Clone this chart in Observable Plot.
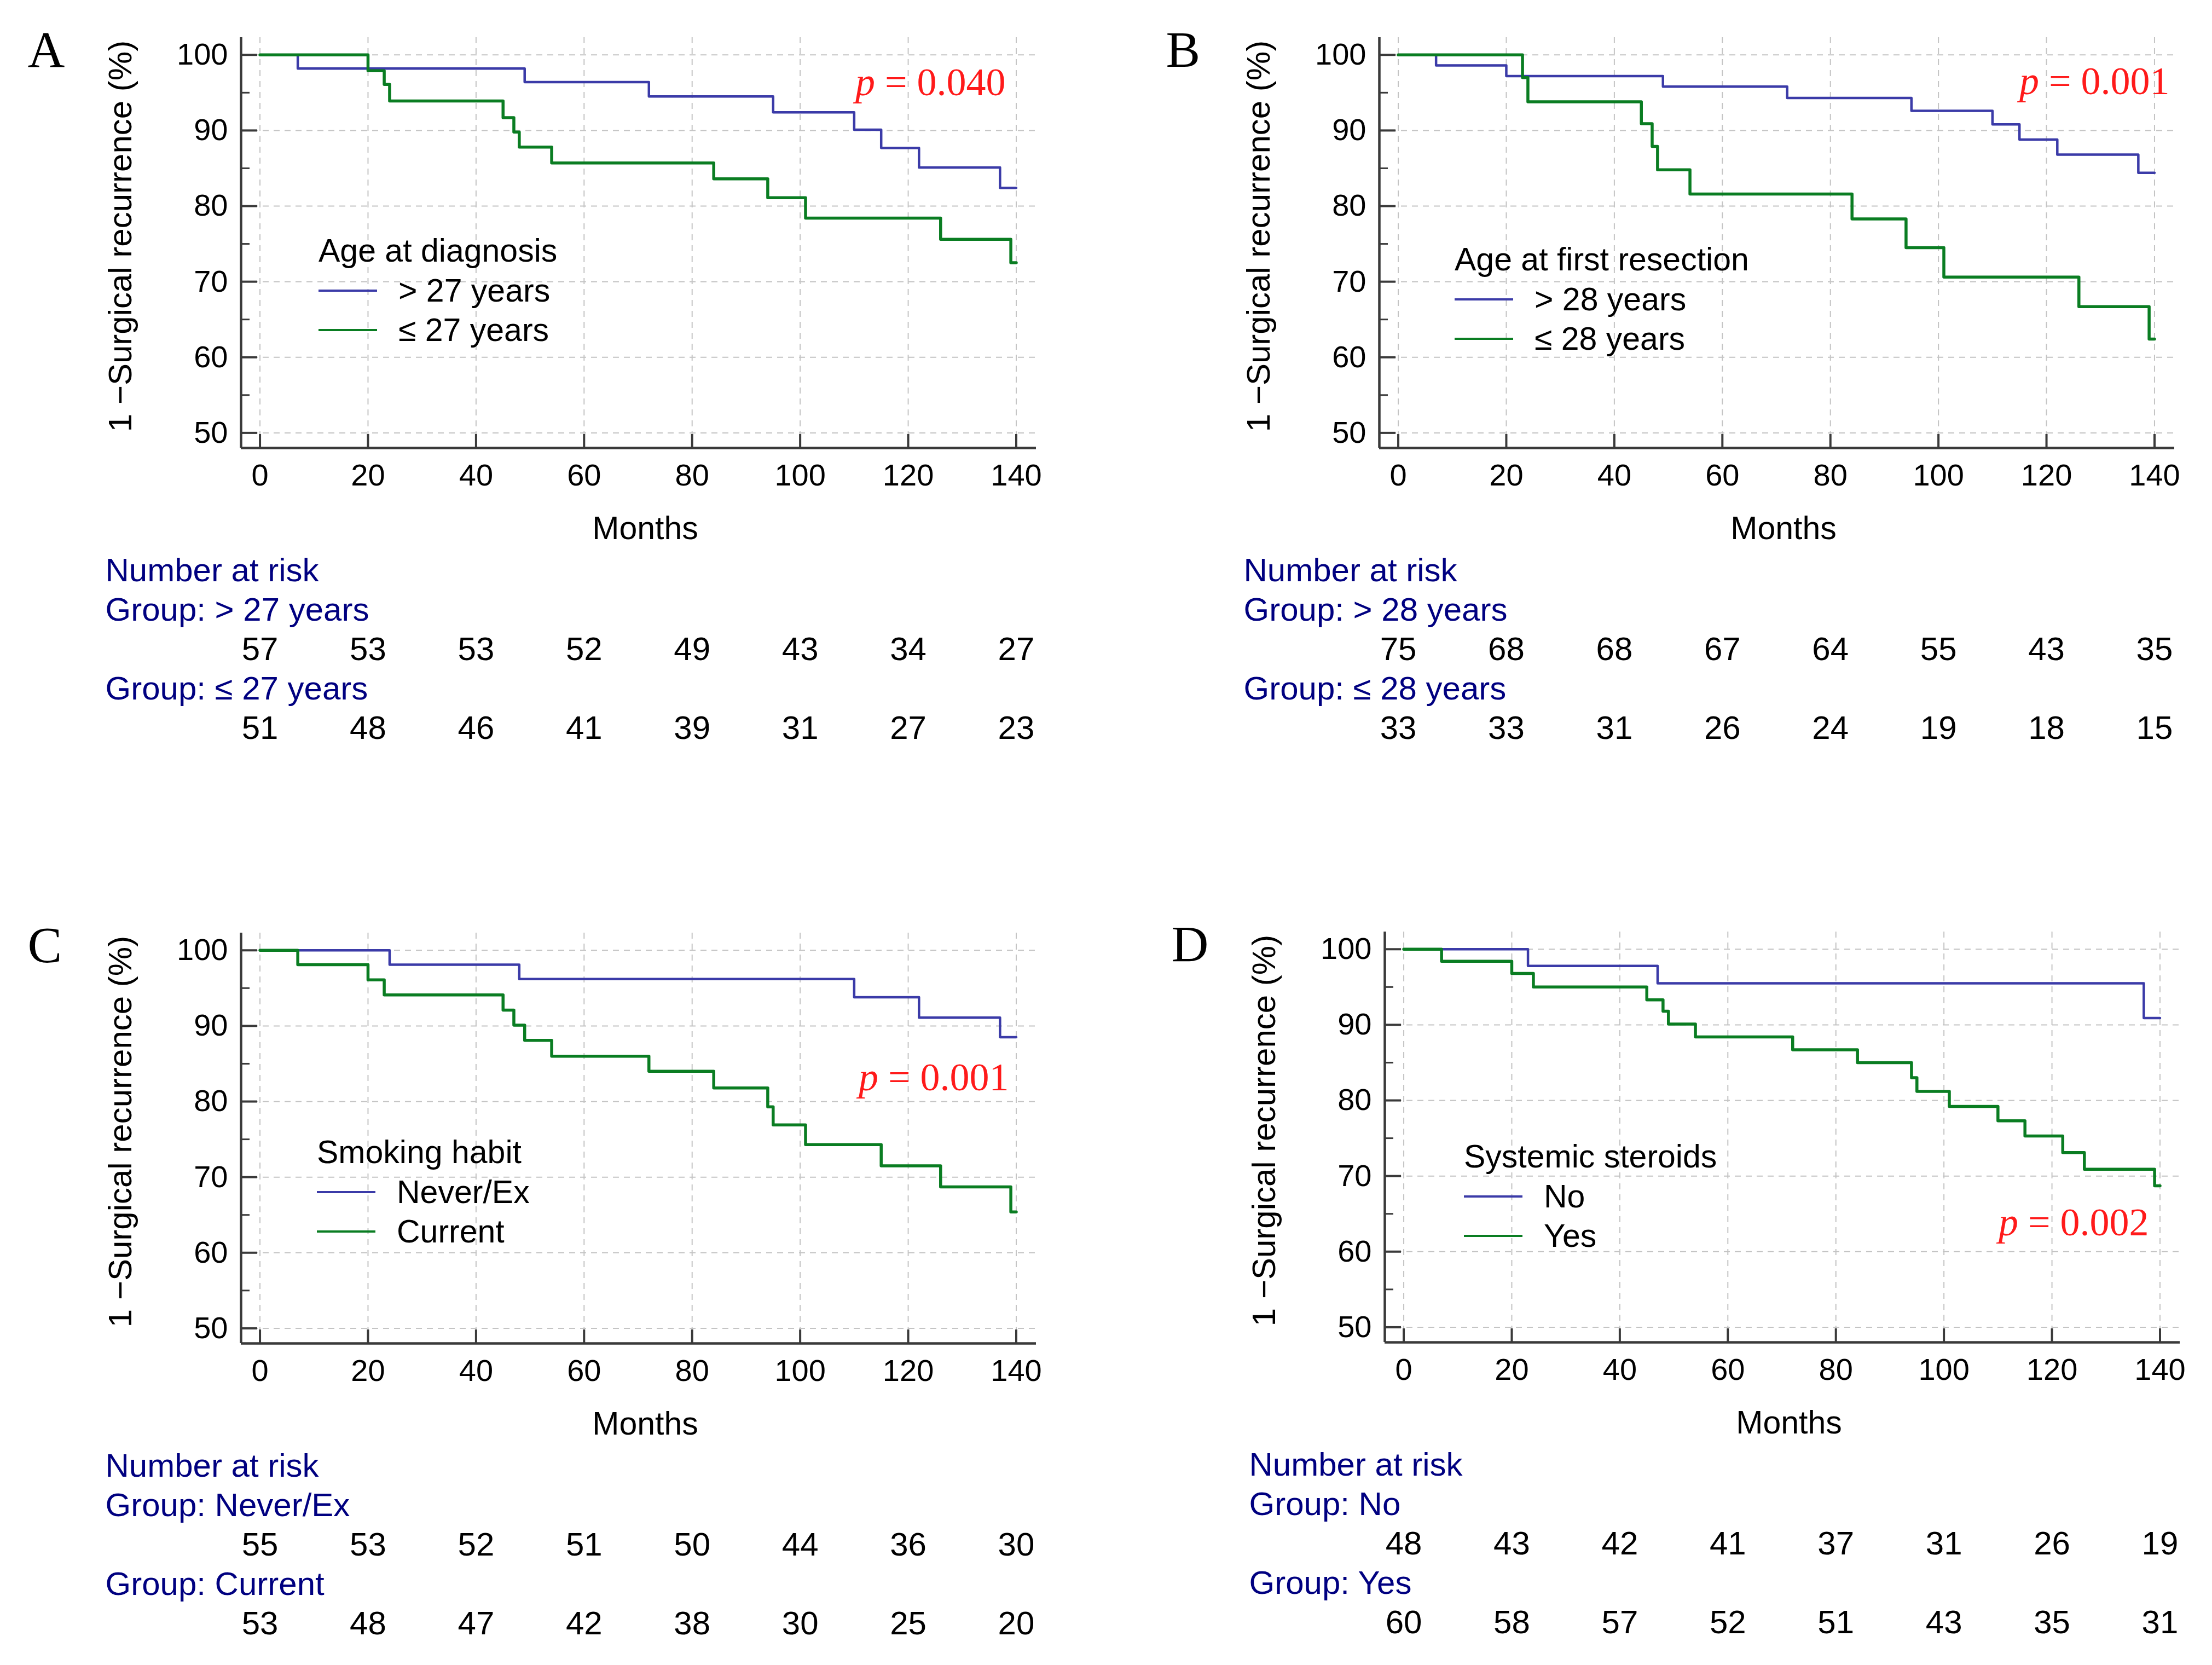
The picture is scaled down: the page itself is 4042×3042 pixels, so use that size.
<!DOCTYPE html>
<html>
<head>
<meta charset="utf-8">
<script src="https://cdn.jsdelivr.net/npm/d3@7"></script>
<script src="https://cdn.jsdelivr.net/npm/@observablehq/plot@0.6"></script>
<style>
html, body { margin: 0; padding: 0; background: #fff; overflow: hidden; }
#fig { position: relative; width: 4042px; height: 3042px; background: #fff; overflow: hidden; }
.panel { position: absolute; width: 2000px; }
.panel svg { display: block; }
</style>
</head>
<body>
<div id="fig"></div>
<script>
// ---------- data ----------
const months = [0, 20, 40, 60, 80, 100, 120, 140];
const yMajor = [50, 60, 70, 80, 90, 100];
const yMinor = [55, 65, 75, 85, 95];
const yTitle = "1 \u2212Surgical recurrence (%)";
const xTitle = "Months";
const riskTitle = "Number at risk";

// Panel A: Age at diagnosis
const timeA1 = [0, 7, 49, 72, 95, 110, 115, 122, 137, 140];
const survA1 = [100, 98.2, 96.4, 94.5, 92.4, 90.1, 87.7, 85.1, 82.4, 82.4];
const timeA2 = [0, 20, 23, 24, 45, 47, 48, 54, 84, 94, 101, 126, 139, 140];
const survA2 = [100, 97.9, 96.1, 93.9, 91.7, 89.8, 87.8, 85.7, 83.6, 81.1, 78.4, 75.6, 72.5, 72.5];
const riskA1 = [57, 53, 53, 52, 49, 43, 34, 27];
const riskA2 = [51, 48, 46, 41, 39, 31, 27, 23];

// Panel B: Age at first resection
const timeB1 = [0, 7, 20, 49, 72, 95, 110, 115, 122, 137, 140];
const survB1 = [100, 98.6, 97.2, 95.8, 94.3, 92.6, 90.8, 88.8, 86.8, 84.4, 84.4];
const timeB2 = [0, 23, 24, 45, 47, 48, 54, 84, 94, 101, 126, 139, 140];
const survB2 = [100, 97.0, 93.8, 90.9, 87.9, 84.8, 81.6, 78.3, 74.5, 70.6, 66.7, 62.4, 62.4];
const riskB1 = [75, 68, 68, 67, 64, 55, 43, 35];
const riskB2 = [33, 33, 31, 26, 24, 19, 18, 15];

// Panel C: Smoking habit
const timeC1 = [0, 24, 48, 110, 122, 137, 140];
const survC1 = [100, 98.1, 96.2, 93.8, 91.1, 88.5, 88.5];
const timeC2 = [0, 7, 20, 23, 45, 47, 49, 54, 72, 84, 94, 95, 101, 115, 126, 139, 140];
const survC2 = [100, 98.1, 96.1, 94.1, 92.1, 90.1, 88.1, 86.0, 84.0, 81.8, 79.3, 76.9, 74.3, 71.5, 68.7, 65.4, 65.4];
const riskC1 = [55, 53, 52, 51, 50, 44, 36, 30];
const riskC2 = [53, 48, 47, 42, 38, 30, 25, 20];

// Panel D: Systemic steroids
const timeD1 = [0, 23, 47, 137, 140];
const survD1 = [100, 97.8, 95.5, 90.9, 90.9];
const timeD2 = [0, 7, 20, 24, 45, 48, 49, 54, 72, 84, 94, 95, 101, 110, 115, 122, 126, 139, 140];
const survD2 = [100, 98.4, 96.8, 95.0, 93.3, 91.8, 90.1, 88.4, 86.7, 85.0, 83.0, 81.2, 79.2, 77.3, 75.3, 73.1, 70.9, 68.7, 68.7];
const riskD1 = [48, 43, 42, 41, 37, 31, 26, 19];
const riskD2 = [60, 58, 57, 52, 51, 43, 35, 31];

const letters = ["A", "B", "C", "D"];
const legendTitles = ["Age at diagnosis", "Age at first resection", "Smoking habit", "Systemic steroids"];
const group1 = ["> 27 years", "> 28 years", "Never/Ex", "No"];
const group2 = ["\u2264 27 years", "\u2264 28 years", "Current", "Yes"];
const pValues = ["p = 0.040", "p = 0.001", "p = 0.001", "p = 0.002"];

// ---------- layout / style ----------
const xDomain = [-3.5, 143.7];
const yDomain = [48, 102.3];
const W = 2000, H = 1010, ML = 440, MR = 107, MT = 68, MB = 192;
const FW = W - ML - MR, FH = H - MT - MB;
const BLUE = "#3b3ba8", GREEN = "#0a7d22", AXIS = "#3a3a3a", GRID = "#c4c4c4", NAVY = "#000080", RED = "#ff1a1a";
const SANS = "'Liberation Sans', Arial, Helvetica, sans-serif";
const SERIF = "'Liberation Serif', 'Times New Roman', serif";

const layout = [
  {left: 0,    top: 0,    leg: [582, 478], p: [1837, 173]},
  {left: 2080, top: 0,    leg: [578, 494], p: [1884, 171]},
  {left: 0,    top: 1636, leg: [579, 489], p: [1843, 355]},
  {left: 2090, top: 1634, leg: [585, 499], p: [1836, 622]}
];

const panels = [
  {t1: timeA1, s1: survA1, t2: timeA2, s2: survA2, r1: riskA1, r2: riskA2},
  {t1: timeB1, s1: survB1, t2: timeB2, s2: survB2, r1: riskB1, r2: riskB2},
  {t1: timeC1, s1: survC1, t2: timeC2, s2: survC2, r1: riskC1, r2: riskC2},
  {t1: timeD1, s1: survD1, t2: timeD2, s2: survD2, r1: riskD1, r2: riskD2}
].map((d, i) => ({...d, letter: letters[i], legTitle: legendTitles[i], g1: group1[i], g2: group2[i], pv: pValues[i], ...layout[i]}));

function steps(t, s) { return t.map((d, i) => ({t: d, s: s[i]})); }

function legendMark(p) {
  return () => {
    const [x, y] = p.leg;
    const g = d3.create("svg:g")
      .attr("font-size", 59).attr("font-family", SANS)
      .attr("text-anchor", "start").attr("fill", "black");
    g.append("text").attr("x", x).attr("y", y).text(p.legTitle);
    [[p.g1, BLUE], [p.g2, GREEN]].forEach(([lab, col], i) => {
      const yy = y + 53 + i * 72;
      g.append("line").attr("x1", x).attr("x2", x + 107).attr("y1", yy).attr("y2", yy)
        .attr("stroke", col).attr("stroke-width", 4);
      g.append("text").attr("x", x + 146).attr("y", yy + 20).text(lab);
    });
    return g.node();
  };
}

function curvePlot(p) {
  const dash = {stroke: GRID, strokeOpacity: 1, strokeWidth: 2, strokeDasharray: "11,9"};
  const svg = Plot.plot({
    width: W, height: H,
    marginLeft: ML, marginRight: MR, marginTop: MT, marginBottom: MB,
    style: {fontFamily: SANS, fontSize: "56px", background: "white", color: "black", overflow: "visible"},
    x: {domain: xDomain, label: null},
    y: {domain: yDomain, label: null},
    marks: [
      Plot.gridX(months, dash),
      Plot.gridY(yMajor, dash),
      Plot.ruleY(yMajor, {stroke: AXIS, strokeWidth: 4, insetRight: FW - 30}),
      Plot.ruleY(yMinor, {stroke: AXIS, strokeWidth: 3, insetRight: FW - 16}),
      Plot.ruleX(months, {stroke: AXIS, strokeWidth: 4, insetTop: FH - 25}),
      Plot.ruleX([xDomain[0]], {stroke: AXIS, strokeWidth: 4.5}),
      Plot.ruleY([yDomain[0]], {stroke: AXIS, strokeWidth: 4.5}),
      Plot.axisY(yMajor, {tickSize: 0, tickPadding: 24, fontSize: 56, label: null}),
      Plot.axisX(months, {tickSize: 0, tickPadding: 29, fontSize: 56, label: null}),
      Plot.line(steps(p.t1, p.s1), {x: "t", y: "s", curve: "step-after", stroke: BLUE, strokeWidth: 4.5}),
      Plot.line(steps(p.t2, p.s2), {x: "t", y: "s", curve: "step-after", stroke: GREEN, strokeWidth: 5.5}),
      Plot.text([p.letter], {text: d => d, frameAnchor: "top-left", textAnchor: "start", lineAnchor: "bottom",
        dx: 50 - ML, dy: 121 - MT, fontFamily: SERIF, fontSize: 94, fill: "black"}),
      Plot.text([yTitle], {text: d => d, frameAnchor: "left", rotate: -90, dx: -220, dy: -12,
        fontSize: 60, fill: "black", textAnchor: "middle"}),
      Plot.text([xTitle], {text: d => d, frameAnchor: "bottom", lineAnchor: "bottom",
        dx: 12, dy: 984 - (H - MB), fontSize: 59, fill: "black"}),
      Plot.text([p.pv], {text: d => d, frameAnchor: "top-right", textAnchor: "end", lineAnchor: "bottom",
        dx: p.p[0] - (W - MR), dy: p.p[1] - MT, fill: RED, fontFamily: SERIF, fontSize: 72}),
      legendMark(p)
    ]
  });
  // italic "p"
  svg.querySelectorAll("text").forEach(t => {
    if (t.textContent === p.pv) {
      t.textContent = "";
      const ts = document.createElementNS("http://www.w3.org/2000/svg", "tspan");
      ts.setAttribute("font-style", "italic");
      ts.textContent = p.pv.slice(0, 1);
      t.appendChild(ts);
      t.appendChild(document.createTextNode(p.pv.slice(1)));
    }
  });
  return svg;
}

function riskPlot(p) {
  const rows = ["head", "g1", "n1", "g2", "n2"];
  const labels = [
    {row: "head", text: riskTitle},
    {row: "g1", text: "Group: " + p.g1},
    {row: "g2", text: "Group: " + p.g2}
  ];
  const nums = [
    ...months.map((m, i) => ({row: "n1", t: m, n: p.r1[i]})),
    ...months.map((m, i) => ({row: "n2", t: m, n: p.r2[i]}))
  ];
  return Plot.plot({
    width: W, height: 390,
    marginLeft: 192, marginRight: MR, marginTop: 0, marginBottom: 0,
    style: {fontFamily: SANS, fontSize: "60px", background: "white", color: "black", overflow: "visible"},
    x: {domain: xDomain, range: [ML, W - MR], axis: null},
    y: {type: "point", domain: rows, range: [50, 340], padding: 0, axis: null},
    marks: [
      Plot.text(labels, {y: "row", text: "text", frameAnchor: "left", textAnchor: "start",
        lineAnchor: "bottom", fill: NAVY, fontSize: 60}),
      Plot.text(nums, {x: "t", y: "row", text: d => String(d.n), lineAnchor: "bottom",
        fill: "black", fontSize: 60})
    ]
  });
}

const fig = document.getElementById("fig");
panels.forEach(p => {
  const div = document.createElement("div");
  div.className = "panel";
  div.style.left = p.left + "px";
  div.style.top = p.top + "px";
  div.appendChild(curvePlot(p));
  div.appendChild(riskPlot(p));
  fig.appendChild(div);
});
</script>
</body>
</html>
